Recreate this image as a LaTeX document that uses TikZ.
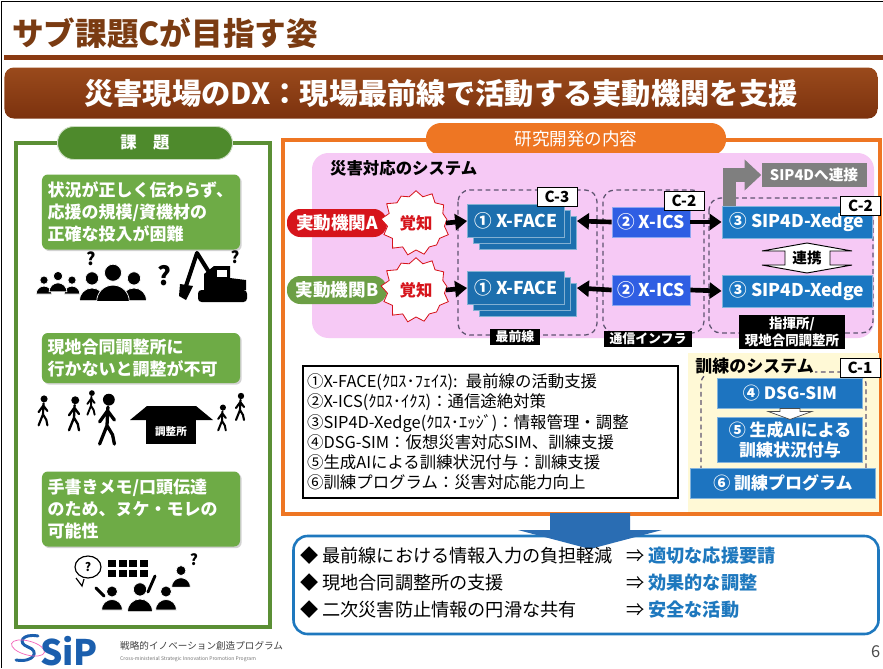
\documentclass[tikz,border=0pt]{standalone}
\usepackage{fontspec}
\setmainfont{Noto Sans CJK JP}
\usepackage{xcolor}
\usetikzlibrary{positioning,arrows.meta,shapes.symbols,shadows}

\definecolor{titlebrown}{HTML}{7A3B12}
\definecolor{bannertop}{HTML}{9A4A1C}
\definecolor{bannerbot}{HTML}{7C320E}
\definecolor{rulebrown}{HTML}{8A3A12}
\definecolor{panelgreen}{HTML}{5B8F35}
\definecolor{tabgreen}{HTML}{4E8A2C}
\definecolor{boxgreen}{HTML}{6EAB46}
\definecolor{panelorange}{HTML}{EE7623}
\definecolor{syspink}{HTML}{F6C9F5}
\definecolor{orgred}{HTML}{D6141B}
\definecolor{orggreen}{HTML}{6C9F45}
\definecolor{faceblue}{HTML}{1D6FAE}
\definecolor{icsblue}{HTML}{2F5EE3}
\definecolor{edgeblue}{HTML}{1B77C2}
\definecolor{trainblue}{HTML}{1D74C0}
\definecolor{trainbg}{HTML}{FFF9D6}
\definecolor{dashpurple}{HTML}{5E5470}
\definecolor{linkgray}{HTML}{7F7F7F}
\definecolor{resultblue}{HTML}{1E78BE}
\definecolor{arrowblue}{HTML}{2A6DB3}
\definecolor{sipblue}{HTML}{1B5FAE}

\newcommand\fsz[2]{\fontsize{#1}{#2}\selectfont}

\begin{document}
\begin{tikzpicture}[x=0.3mm, y=-0.3mm,
    greenbox/.style={fill=boxgreen, rounded corners=5pt, text=white, font=\fsz{14.5}{18.5}\bfseries,
      text width=56mm, align=left, inner xsep=1.7mm,
      drop shadow={opacity=0.35, shadow xshift=0.5mm, shadow yshift=-0.5mm}},
    pill/.style={rounded corners=4mm, minimum width=30mm, minimum height=8.4mm, text=white,
      font=\fsz{15}{17}\bfseries, inner sep=1pt},
    burst/.style={starburst, starburst points=13, starburst point height=2.4mm, random starburst=41,
      fill=white, draw=orgred, line width=0.7pt, text=orgred, font=\fsz{14}{16}\bfseries,
      minimum width=22mm, minimum height=21mm, inner sep=0pt},
    facebox/.style={fill=faceblue, draw=faceblue!55!white, line width=0.7pt, text=white,
      font=\fsz{15}{17}\bfseries, minimum width=29.1mm, minimum height=9.9mm, inner sep=1pt,
      double copy shadow={shadow xshift=1.8mm, shadow yshift=-1.8mm}},
    icsbox/.style={fill=icsblue, draw=icsblue!55!white, line width=0.7pt, text=white,
      font=\fsz{15}{17}\bfseries, minimum width=23.4mm, minimum height=9mm, inner sep=1pt},
    edgebox/.style={fill=edgeblue, draw=edgeblue!55!white, line width=0.7pt, text=white,
      font=\fsz{15}{17}\bfseries, minimum width=45mm, minimum height=9.6mm, inner sep=1pt},
    trainbox/.style={fill=trainblue, draw=trainblue!55!white, line width=0.7pt, text=white,
      font=\fsz{14.5}{17}\bfseries, minimum width=43.5mm, minimum height=9mm, inner sep=1pt, align=center},
    tagbox/.style={fill=white, draw=black, line width=0.8pt, font=\fsz{13}{14}\bfseries,
      minimum width=12mm, minimum height=5.6mm, inner sep=1pt},
    blacklabel/.style={fill=black, text=white, font=\fsz{11}{13.5}\bfseries, inner xsep=5pt,
      inner ysep=2pt, align=center},
    dashbox/.style={draw=dashpurple, dash pattern=on 4pt off 3pt, line width=1.1pt, rounded corners=10pt},
    bigarrow/.style={line width=1.4mm, -{Triangle[length=3.6mm, width=4.8mm]}},
    qmark/.style={font=\fsz{#1}{#1}\bfseries, inner sep=0pt},
    resleft/.style={anchor=west, font=\fsz{15.5}{18}, inner sep=0pt},
    person/.pic={
      \filldraw[draw=white, line width=0.6pt] (0,-10.5) circle (5.5);
      \filldraw[draw=white, line width=0.6pt] (-10.5,8) arc[start angle=180, end angle=360, radius=10.5] -- cycle;
    },
    pics/walker/.style={code={
      \draw[line width=#1, line cap=round, line join=round]
        (0.5,-7) -- (0,3) -- (-4,13) (0,3) -- (3,8) -- (4,13)
        (-4,1) -- (0.3,-5) -- (4,0);
      \fill (1,-11) circle (3.2);
    }},
  ]
    \useasboundingbox (0,0) rectangle (883,668);
    \clip (0,0) rectangle (883,668);
    \fill[white] (0,0) rectangle (883,668);
    \draw[black, line width=1.2pt] (1.5,668) -- (1.5,1.5) -- (883,1.5);

    % heading and banner
    \node[anchor=west, text=titlebrown, font=\fsz{27}{30}\bfseries] (heading) at (8,33) {サブ課題Cが目指す姿};
    \fill[rulebrown] (4,55) rectangle (883,60);
    \node[top color=bannertop, bottom color=bannerbot, rounded corners=8pt, minimum width=261.9mm,
      minimum height=15.3mm, text=white, font=\fsz{25}{28}\bfseries] (banner) at (441,93)
      {災害現場のDX：現場最前線で活動する実動機関を支援};

    % left panel
    \draw[panelgreen, line width=3.4pt] (16,143) rectangle (270,627);
    \node[fill=tabgreen, draw=white!70!tabgreen, line width=0.8pt, rounded corners=4.9mm,
      minimum width=52.5mm, minimum height=9.9mm, text=white, font=\fsz{14}{16}\bfseries] (kadaiTab) at (145,143) {課　題};

    \node[greenbox, minimum height=22.5mm] (issue1) at (141,212)
      {状況が正しく伝わらず、\\応援の規模/資機材の\\正確な投入が困難};
    \node[greenbox, minimum height=15mm] (issue2) at (141,358)
      {現地合同調整所に\\行かないと調整が不可};
    \node[greenbox, minimum height=22.5mm] (issue3) at (141,509)
      {手書きメモ/口頭伝達\\のため、ヌケ・モレの\\可能性};

    % people and excavator
    \pic[scale=0.75] at (44,288) {person};
    \pic[scale=0.75] at (72,288) {person};
    \pic[scale=0.85] at (58,285) {person};
    \pic[scale=1.2] at (92,291) {person};
    \pic[scale=1.2] at (134,291) {person};
    \pic[scale=1.55] at (113,289) {person};
    \node[qmark=15] (qPeople) at (91,259) {?};
    \node[qmark=22] (qBig) at (164,276) {?};
    \fill[rounded corners=3pt] (198,290) rectangle (247,302);
    \fill (204,290) -- (204,274) -- (214,266) -- (230,266) -- (230,278) -- (246,280) -- (246,290) -- cycle;
    \fill[white] (217,270) rectangle (227,277);
    \draw[line width=3.5pt, line join=round] (212,277) -- (197,253) -- (186,286);
    \fill (180,284) -- (193,286) -- (186,300) -- (179,296) -- cycle;
    \node[qmark=14] (qMachine) at (235,257) {?};

    % walkers and coordination office
    \pic[scale=1.1] at (43,411) {walker=1.8pt};
    \pic[scale=1.25] at (74,414) {walker=2pt};
    \pic[scale=0.9] at (91,403) {walker=1.6pt};
    \pic[scale=1.85] at (107,420) {walker=2.8pt};
    \pic[scale=0.95] at (222,418) {walker=1.7pt};
    \pic[scale=1.0] at (240,407) {walker=1.8pt};
    \fill (130,420) -- (147,406) -- (196,406) -- (213,420) -- cycle;
    \node[fill=black, text=white, minimum width=15mm, minimum height=7.2mm, font=\fsz{9}{10}\bfseries] (office) at (171,432) {調整所};

    % meeting with memos
    \draw[line width=1pt, fill=white] (76,578) -- (82,586) -- (84,579) (88,567) ellipse (13 and 11);
    \node[qmark=10] (qBubble) at (88,567) {?};
    \foreach \i in {0,...,3}
      \foreach \j in {0,1}
        \fill (108+\i*10.5,560+\j*10) rectangle ++(8,7);
    \pic[scale=1.0] at (112,602) {person};
    \pic[scale=1.0] at (166,602) {person};
    \pic[scale=1.2] at (140,602) {person};
    \draw[line width=2.5pt, line cap=round] (148,592) -- (155,576);
    \draw[line width=2.5pt, line cap=round] (104,596) -- (96,588);
    \pic[scale=0.9] at (181,580) {person};
    \node[qmark=13] (qMemo) at (194,560) {?};

    % logo
    \draw[sipblue, line width=2.5pt, line cap=round] (16,660) .. controls (34,663) and (40,651) .. (28,647)
      .. controls (17,643) and (22,633) .. (38,636);
    \draw[magenta!60, line width=0.6pt, rotate around={-15:(28,648)}] (28,648) ellipse (17 and 7);
    \node[anchor=west, font=\fsz{30}{30}\bfseries, text=sipblue, inner sep=0pt] (sipMark) at (40,651) {SiP};
    \node[anchor=west, font=\fsz{8.2}{10}, text=black!75, inner sep=0pt] (sipName) at (120,646) {戦略的イノベーション創造プログラム};
    \node[anchor=west, font=\fsz{4.3}{5}, text=black!55, inner sep=0pt] (sipNameEn) at (120,659) {Cross-ministerial Strategic Innovation Promotion Program};
    \node[anchor=west, font=\fsz{14}{14}, text=black!70, inner sep=0pt] (pageNo) at (871,652) {6};

    % right panel
    \draw[panelorange, line width=3.4pt] (283,140) rectangle (880,514);
    \node[fill=panelorange, rounded corners=4.5mm, minimum width=90mm, minimum height=9.6mm,
      text=white, font=\fsz{15}{17}] (naiyoTab) at (576,139) {研究開発の内容};
    \fill[syspink, rounded corners=14pt] (312,153) rectangle (874,338);
    \node[anchor=west, font=\fsz{14}{16}\bfseries] (sysTitle) at (326,168) {災害対応のシステム};

    \draw[dashbox] (458,190) rectangle (597,335);
    \draw[dashbox] (603,190) rectangle (704,333);
    \draw[dashbox] (709,198) rectangle (873,333);

    \node[pill, fill=orgred] (orgA) at (337,223) {実動機関A};
    \node[pill, fill=orggreen] (orgB) at (337,290) {実動機関B};
    \node[burst] (burstA) at (416,223) {覚知};
    \node[burst] (burstB) at (416,290) {覚知};

    \node[facebox] (faceA) at (516,221) {① X-FACE};
    \node[facebox] (faceB) at (516,288) {① X-FACE};
    \node[icsbox] (icsA) at (651,222) {② X-ICS};
    \node[icsbox] (icsB) at (651,290) {② X-ICS};
    \node[edgebox] (edgeA) at (797,222) {③ SIP4D-Xedge};
    \node[edgebox] (edgeB) at (797,291) {③ SIP4D-Xedge};

    \draw[bigarrow] (burstA.east) -- (faceA.west);
    \draw[bigarrow] (burstB.east) -- (faceB.west);
    \draw[bigarrow] (icsA.west) -- ([xshift=3.6mm]faceA.east);
    \draw[bigarrow] (icsB.west) -- ([xshift=3.6mm]faceB.east);
    \draw[bigarrow] (icsA.east) -- (edgeA.west);
    \draw[bigarrow] (icsB.east) -- (edgeB.west);

    \node[fill=linkgray, minimum width=31.5mm, minimum height=7.2mm, text=white,
      font=\fsz{12.5}{14}\bfseries] (sipLink) at (814,175) {SIP4Dへ連接};
    \draw[linkgray, line width=4mm, -{Triangle[length=5mm, width=9mm]}]
      ([xshift=2.4mm]edgeA.north west) |- (sipLink.west);

    \draw[fill=white, line width=0.8pt] (807,243) -- (852,251) -- (830,251) -- (830,265) -- (852,265)
      -- (807,273) -- (762,265) -- (785,265) -- (785,251) -- (762,251) -- cycle;
    \node[font=\fsz{12.5}{14}\bfseries, inner sep=0pt] (renkei) at (807,258) {連携};

    \node[tagbox] (tagFace) at (557,197) {C-3};
    \node[tagbox] (tagIcs) at (684,201) {C-2};
    \node[tagbox, anchor=east] (tagEdge) at (881,206) {C-2};

    \node[blacklabel] (frontLbl) at (515,337) {最前線};
    \node[blacklabel] (infraLbl) at (648,339) {通信インフラ};
    \node[blacklabel, font=\fsz{11.5}{14}\bfseries] (hqLbl) at (792,332) {指揮所/\\現地合同調整所};

    % legend
    \node[draw=black, line width=1.3pt, fill=white, minimum width=112.5mm, minimum height=39.6mm,
      text width=110mm, inner xsep=1.25mm, align=left, font=\fsz{14}{17.3}] (legend) at (490.5,432)
      {①X-FACE(ｸﾛｽ･ﾌｪｲｽ): 最前線の活動支援\\
       ②X-ICS(ｸﾛｽ･ｲｸｽ)：通信途絶対策\\
       ③SIP4D-Xedge(ｸﾛｽ･ｴｯｼﾞ)：情報管理・調整\\
       ④DSG-SIM：仮想災害対応SIM、訓練支援\\
       ⑤生成AIによる訓練状況付与：訓練支援\\
       ⑥訓練プログラム：災害対応能力向上};

    % training system
    \fill[trainbg] (688,353) rectangle (879,512);
    \draw[dashbox] (701,372) rectangle (866,492);
    \node[anchor=west, fill=trainbg, inner sep=1pt, font=\fsz{14.5}{16}\bfseries] (trainTitle) at (694,366) {訓練のシステム};
    \node[tagbox] (tagTrain) at (860,368) {C-1};
    \node[trainbox] (dsg) at (790,393) {④ DSG-SIM};
    \node[trainbox, minimum height=13.5mm] (genai) at (790,440) {⑤ 生成AIによる\\訓練状況付与};
    \node[trainbox, minimum width=55.5mm] (program) at (783,483) {⑥ 訓練プログラム};
    \draw[fill=white, draw=black!70, line width=0.6pt, shift={(dsg.south)}]
      (-10,0) -- (10,0) -- (10,3) -- (22,3) -- (0,11) -- (-22,3) -- (-10,3) -- cycle;

    % outcomes
    \node[draw=resultblue, line width=2.2pt, rounded corners=12pt, fill=white,
      minimum width=175.5mm, minimum height=29.4mm] (result) at (586,585) {};
    \fill[arrowblue] (550,513) -- (630,513) -- (630,530) -- (662,530) -- (590,549) -- (518,530) -- (550,530) -- cycle;

    \node[resleft] (need1) at (300,556) {◆ 最前線における情報入力の負担軽減};
    \node[resleft] (need2) at (300,583) {◆ 現地合同調整所の支援};
    \node[resleft] (need3) at (300,610) {◆ 二次災害防止情報の円滑な共有};
    \node[resleft] (goal1) at (626,556) {⇒ \textcolor{resultblue}{\bfseries 適切な応援要請}};
    \node[resleft] (goal2) at (626,583) {⇒ \textcolor{resultblue}{\bfseries 効果的な調整}};
    \node[resleft] (goal3) at (626,610) {⇒ \textcolor{resultblue}{\bfseries 安全な活動}};
\end{tikzpicture}
\end{document}
